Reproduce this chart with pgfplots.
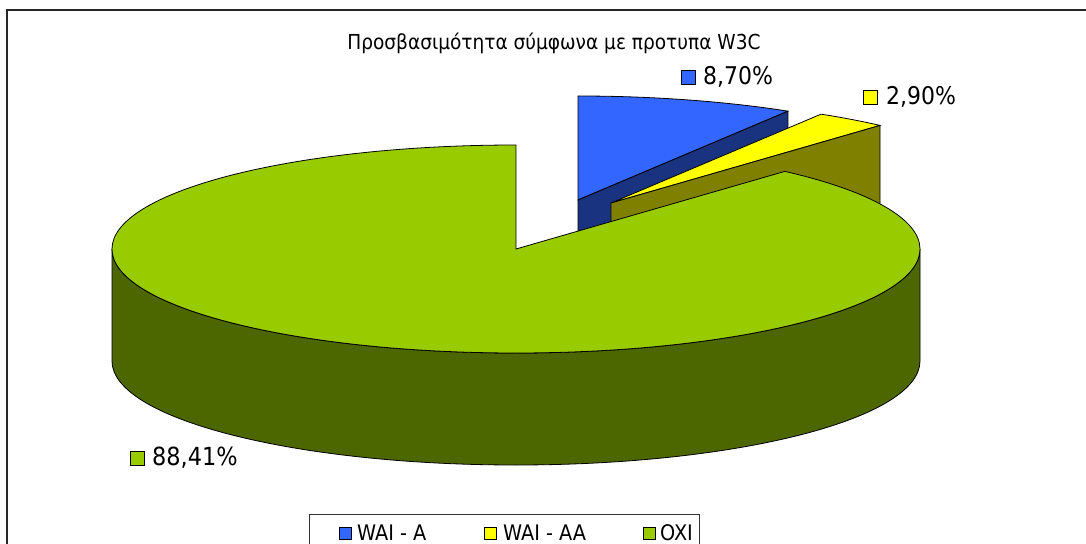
\documentclass[border=0pt]{standalone}
\usepackage{pgfplots}
\pgfplotsset{compat=1.18}
\usepackage{fontspec}
\setmainfont{DejaVu Sans Condensed}
\definecolor{blueT}{RGB}{51,102,255}
\definecolor{blueD}{RGB}{26,51,128}
\definecolor{yelT}{RGB}{255,255,0}
\definecolor{yelD}{RGB}{128,128,0}
\definecolor{grnT}{RGB}{153,204,0}
\definecolor{grnD}{RGB}{76,102,0}
\definecolor{frame}{RGB}{40,40,40}
\begin{document}
\begin{tikzpicture}
% data (percent)
\def\vA{8.70}\def\vB{2.90}\def\vC{88.41}
\pgfmathsetmacro\angA{90-3.6*\vA}
\pgfmathsetmacro\angB{\angA-3.6*\vB}
\pgfmathsetmacro\angC{90+3.6*\vC}
\pgfmathsetmacro\angAo{\angA+180}
\pgfmathsetmacro\angBo{\angB+180}
\begin{axis}[x=1bp,y=1bp,xmin=0,xmax=1086,ymin=0,ymax=544,hide axis,clip=false,
  at={(0,0)},anchor=south west]
% frame
\draw[frame,line width=1.5bp] (axis cs:7,0) -- (axis cs:7,534) -- (axis cs:1086,534);
% title
\node[font=\fontsize{20.7}{24}\selectfont,inner sep=0] at (axis cs:554,501) {Προσβασιμότητα σύμφωνα με προτυπα W3C};
% blue slice (exploded)
\filldraw[fill=blueT,draw=black,line width=0.8bp] (axis cs:578,344) -- ++(\angA:404bp and 104bp)
   arc[start angle=\angA,end angle=90,x radius=404bp,y radius=104bp] -- cycle;
\filldraw[fill=blueD,draw=black,line width=0.8bp] (axis cs:578,344) -- ++(\angA:404bp and 104bp) -- ++(0,-112bp)
   -- ++(\angAo:404bp and 104bp) -- cycle;
% yellow slice (exploded)
\filldraw[fill=yelT,draw=black,line width=0.8bp] (axis cs:611,341) -- ++(\angB:404bp and 104bp)
   arc[start angle=\angB,end angle=\angA,x radius=404bp,y radius=104bp] -- cycle;
\filldraw[fill=yelD,draw=black,line width=0.8bp] (axis cs:611,341) -- ++(\angB:404bp and 104bp) -- ++(0,-112bp)
   -- ++(\angBo:404bp and 104bp) -- cycle;
% green slice
\filldraw[fill=grnD,draw=black,line width=0.8bp] (axis cs:112,295)
   arc[start angle=180,end angle=360,x radius=404bp,y radius=104bp] -- ++(0,-112bp)
   arc[start angle=360,end angle=180,x radius=404bp,y radius=104bp] -- cycle;
\filldraw[fill=grnT,draw=black,line width=0.8bp] (axis cs:516,295) -- ++(90:404bp and 104bp)
   arc[start angle=90,end angle=\angC,x radius=404bp,y radius=104bp] -- cycle;
% data labels
\filldraw[fill=blueT,draw=black,line width=0.8bp] (axis cs:681,460) rectangle (axis cs:695,474);
\node[anchor=west,inner sep=0,font=\fontsize{24.5}{28}\selectfont] at (axis cs:703,467) {8,70\%};
\filldraw[fill=yelT,draw=black,line width=0.8bp] (axis cs:863,440) rectangle (axis cs:877,454);
\node[anchor=west,inner sep=0,font=\fontsize{24.5}{28}\selectfont] at (axis cs:886,447) {2,90\%};
\filldraw[fill=grnT,draw=black,line width=0.8bp] (axis cs:130,79) rectangle (axis cs:144,93);
\node[anchor=west,inner sep=0,font=\fontsize{25}{28}\selectfont] at (axis cs:152,86) {88,41\%};
% legend
\draw[black!80,line width=1bp] (axis cs:309,0) -- (axis cs:309,29) -- (axis cs:699,29) -- (axis cs:699,0);
\filldraw[fill=blueT,draw=black,line width=0.8bp] (axis cs:339,5) rectangle (axis cs:351,17);
\node[anchor=base west,inner sep=0,font=\fontsize{21.5}{26}\selectfont] at (axis cs:357,4) {WAI - A};
\filldraw[fill=yelT,draw=black,line width=0.8bp] (axis cs:484,5) rectangle (axis cs:496,17);
\node[anchor=base west,inner sep=0,font=\fontsize{21.5}{26}\selectfont] at (axis cs:503,4) {WAI - AA};
\filldraw[fill=grnT,draw=black,line width=0.8bp] (axis cs:643,5) rectangle (axis cs:655,17);
\node[anchor=base west,inner sep=0,font=\fontsize{21.5}{26}\selectfont] at (axis cs:660,4) {OXI};
\end{axis}
\pgfresetboundingbox
\useasboundingbox (0,0) rectangle (1086bp,544bp);
\end{tikzpicture}
\end{document}
